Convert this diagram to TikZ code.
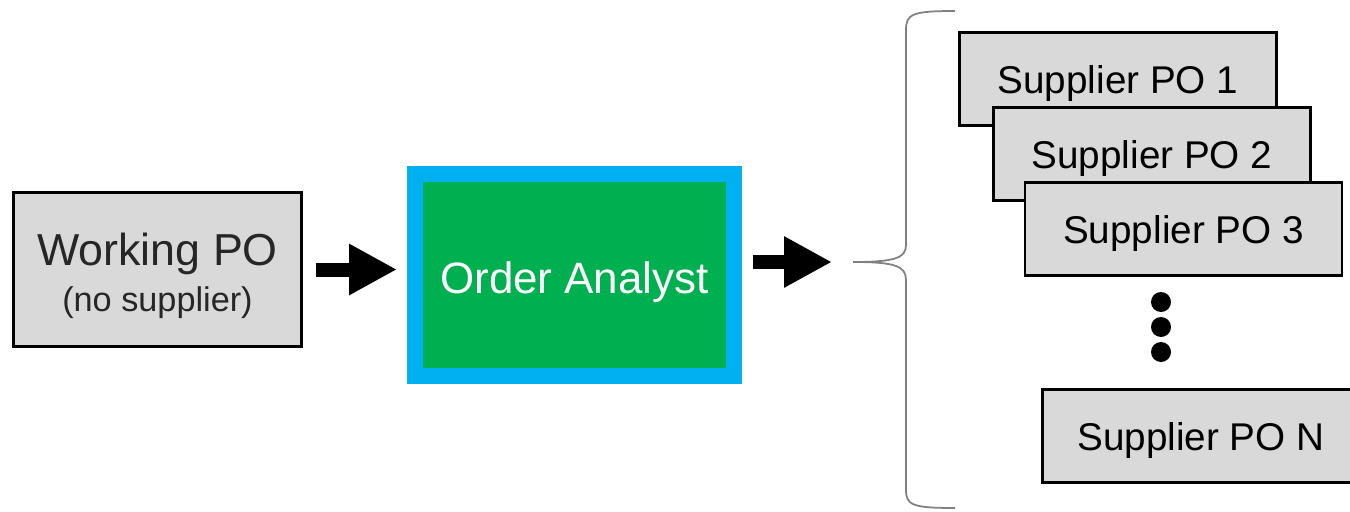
\documentclass[tikz,border=0pt]{standalone}
\usepackage{fontspec}
\setmainfont{Liberation Sans}
\usetikzlibrary{arrows.meta}
\definecolor{boxgray}{HTML}{D9D9D9}
\definecolor{oacyan}{HTML}{00B0F0}
\definecolor{oagreen}{HTML}{00B050}
\begin{document}
\begin{tikzpicture}[x=0.02cm, y=-0.02cm,
  pobox/.style={draw=black, fill=boxgray, line width=1.5pt, minimum width=6.34cm, minimum height=1.86cm, inner sep=0pt, text height=0.56cm, text depth=0cm, font=\fontsize{22}{26}\selectfont},
  bigarrow/.style={line width=0.28cm, -{Triangle[length=0.96cm, width=0.96cm]}}]
\useasboundingbox (0,0) rectangle (1350,511);
\clip (0,0) rectangle (1350,511);
\node[draw=black, fill=boxgray, line width=1.5pt, minimum width=5.76cm, minimum height=3.08cm, inner sep=0pt] (wpo) at (157.5,269.5) {};
\node[align=center, inner sep=0pt, font=\fontsize{25.5}{26}\selectfont, text=black!85] (wpotext) at ([yshift=-0.12cm]wpo.center) {Working PO\\\fontsize{19.5}{26}\selectfont (no supplier)};
\node[draw=oacyan, fill=oagreen, line width=0.31cm, minimum width=6.39cm, minimum height=4.05cm, inner sep=0pt, text height=0.72cm, text depth=0cm, text=white, font=\fontsize{25}{30}\selectfont] (oa) at (574.5,275) {Order Analyst};
\coordinate (tip) at (853,262);
\draw[bigarrow] ([xshift=0.26cm]wpo.east) -- ([xshift=-0.2cm]wpo.east -| oa.west);
\draw[bigarrow] ([xshift=0.22cm]oa.east |- tip) -- ([xshift=-0.42cm]tip);
% brace
\draw[gray, line width=1pt] (955,11) .. controls (912,11) and (906,14) .. (906,30) -- (906,245)
  .. controls (906,258) and (895,262) .. (tip) .. controls (895,262) and (906,266) .. (906,280)
  -- (906,490) .. controls (906,505) and (912,508) .. (955,508);
\node[pobox] (po1) at (1118,79) {Supplier PO 1};
\node[pobox] (po2) at (1152,154) {Supplier PO 2};
\node[pobox] (po3) at (1183.5,229) {Supplier PO 3};
\foreach \i/\y in {1/302,2/327,3/352}{\node[circle, fill=black, inner sep=0pt, minimum size=0.4cm] (dot\i) at (1161,\y) {};}
\node[pobox] (pon) at (1201,436) {Supplier PO N};
\end{tikzpicture}
\end{document}
